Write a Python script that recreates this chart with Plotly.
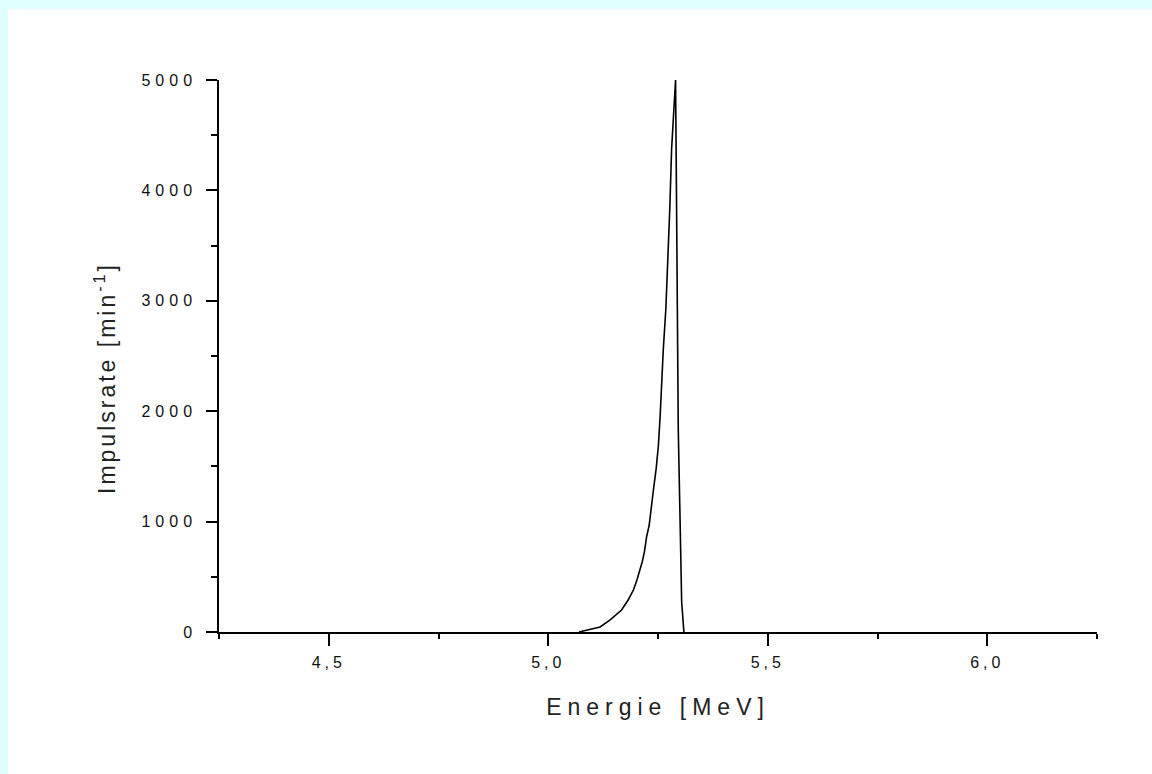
import plotly.graph_objects as go

# Alpha spectrum
energy_mev = [5.070, 5.080, 5.095, 5.118, 5.141, 5.167, 5.182, 5.194, 5.202, 5.209,
              5.214, 5.219, 5.224, 5.230, 5.234, 5.239, 5.246, 5.251, 5.255, 5.258,
              5.262, 5.268, 5.272, 5.277, 5.281, 5.285, 5.290, 5.2926, 5.2962, 5.3017,
              5.3039, 5.309]
rate_per_min = [0, 10, 18, 45, 109, 199, 290, 380, 471, 562,
                634, 725, 861, 969, 1132, 1268, 1486, 1694, 1966, 2255,
                2554, 2935, 3306, 3850, 4375, 4665, 5000, 3705, 1830, 725,
                272, 0]

x_ticks = [4.5, 5.0, 5.5, 6.0]
x_tick_labels = ["4,5", "5,0", "5,5", "6,0"]
y_ticks = [0, 1000, 2000, 3000, 4000, 5000]
y_tick_labels = ["0", "1000", "2000", "3000", "4000", "5000"]

x_title = "Energie [MeV]"
y_title = "Impulsrate [min<sup>-1</sup>]"

W, H = 1152, 774
L, R, T, B = 219, 55, 80, 142

def spaced(s, px):
    return f'<span style="letter-spacing:{px}px">{s}</span>'

fig = go.Figure()
fig.add_trace(go.Scatter(x=energy_mev, y=rate_per_min, mode="lines",
                         line=dict(color="black", width=1.6), showlegend=False))

pw, ph = W - L - R, H - T - B
fig.add_shape(type="rect", xref="paper", yref="paper", layer="below",
              x0=(8 - L) / pw, x1=(W - L + 5) / pw,
              y0=-(B + 5) / ph, y1=(H - B - 9) / ph,
              fillcolor="white", line=dict(width=0))

tickfont = dict(family="Liberation Sans, Arial, sans-serif", size=16, color="#111")
titlefont = dict(family="Liberation Sans, Arial, sans-serif", size=23, color="#222")

# y-axis title placed as a rotated annotation (centred lower than the axis middle, as in the reference)
fig.add_annotation(text=spaced(y_title, 3), textangle=-90, showarrow=False,
                   xref="paper", yref="paper",
                   x=(105 - L) / pw, y=(H - B - 378) / ph,
                   xanchor="center", yanchor="middle", font=titlefont)

fig.update_layout(
    width=W, height=H,
    margin=dict(l=L, r=R, t=T, b=B, autoexpand=False),
    paper_bgcolor="#DFFFFF", plot_bgcolor="rgba(0,0,0,0)",
    separators=",.",
    xaxis=dict(range=[4.25, 6.25], tickvals=x_ticks,
               ticktext=[spaced(t, 4) for t in x_tick_labels],
               ticks="outside", ticklen=12, tickwidth=1.5, tickcolor="black",
               showline=True, linecolor="black", linewidth=1.5,
               showgrid=False, zeroline=False, tickfont=tickfont,
               ticklabelstandoff=3,
               minor=dict(dtick=0.25, tick0=4.25, ticks="outside", ticklen=5,
                          tickwidth=1.5, tickcolor="black", showgrid=False),
               title=dict(text=spaced(x_title, 6), font=titlefont, standoff=29)),
    yaxis=dict(range=[0, 5000], tickvals=y_ticks,
               ticktext=[spaced(t, 5) for t in y_tick_labels],
               ticks="outside", ticklen=11, tickwidth=1.5, tickcolor="black",
               showline=True, linecolor="black", linewidth=1.5,
               showgrid=False, zeroline=False, tickfont=tickfont,
               ticklabelstandoff=6,
               minor=dict(dtick=500, tick0=0, ticks="outside", ticklen=6,
                          tickwidth=1.5, tickcolor="black", showgrid=False)),
)

fig.write_html("out.html", config={"displayModeBar": False},
               post_script="document.body.style.margin='0';document.body.style.overflow='hidden';")
